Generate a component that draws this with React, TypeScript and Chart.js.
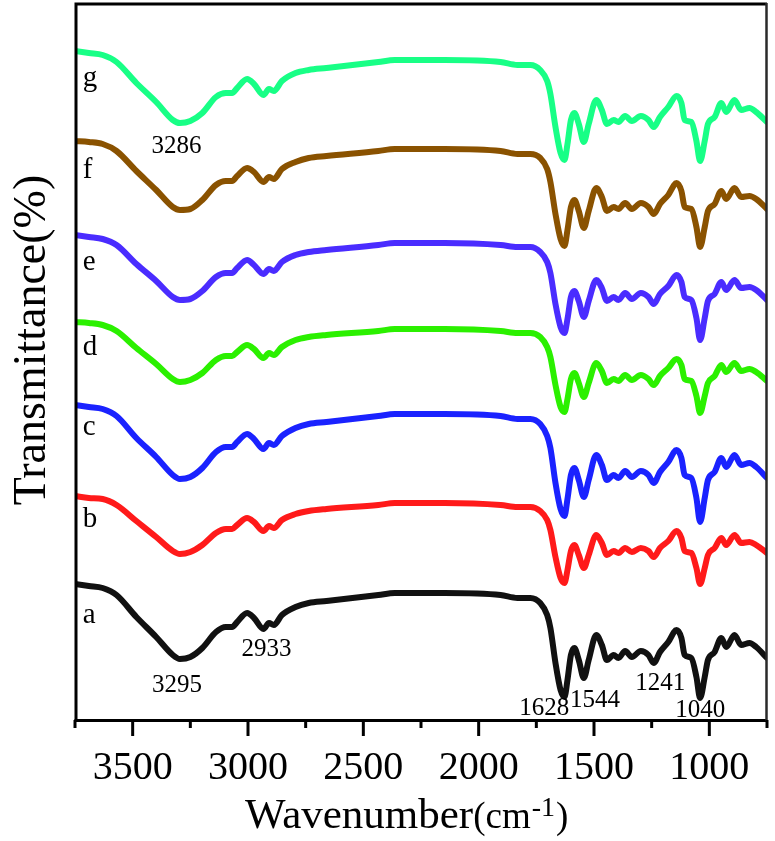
import React, { useEffect, useRef } from 'react';
import { Chart, registerables } from 'chart.js';

Chart.register(...registerables);

// Wavenumber (cm-1) sample positions shared by all spectra
const wavenumbers = [
  3750, 3690, 3630, 3570, 3484, 3398, 3326, 3295, 3250, 3198,
  3139, 3096, 3069, 3047, 3004, 2974, 2933, 2909, 2888, 2853,
  2794, 2737, 2660, 2435, 2364, 2148, 1905, 1832, 1776, 1733,
  1703, 1689, 1667, 1645, 1628, 1615, 1600, 1585, 1566, 1544,
  1523, 1490, 1466, 1444, 1415, 1394, 1365, 1336, 1297, 1264,
  1241, 1214, 1178, 1142, 1121, 1107, 1078, 1056, 1040, 1020,
  1006, 977, 948, 927, 891, 862, 826, 797, 750,
];

// Transmittance (arbitrary offset units) for each sample a..g
const transA = [
  136, 134, 132, 125, 103, 83, 65, 61, 63, 72,
  88, 93, 93, 98, 107, 102, 91, 97, 95, 105,
  113, 117, 119, 125, 127, 127, 125, 122, 122, 117,
  105, 92, 57, 30, 23, 40, 65, 72, 60, 42,
  60, 85, 75, 60, 65, 62, 69, 63, 69, 65,
  57, 68, 78, 90, 82, 65, 62, 43, 22, 43,
  60, 68, 82, 73, 85, 75, 77, 73, 62,
];
const transB = [
  224, 222, 221, 215, 199, 183, 169, 166, 168, 175,
  187, 191, 191, 195, 202, 198, 189, 194, 192, 200,
  206, 209, 211, 215, 217, 217, 215, 213, 213, 209,
  200, 190, 163, 142, 137, 150, 169, 175, 165, 152,
  165, 185, 177, 165, 169, 167, 172, 168, 172, 169,
  163, 172, 179, 189, 182, 169, 167, 152, 136, 152,
  165, 172, 182, 175, 185, 177, 178, 175, 167,
];
const transC = [
  315, 313, 311, 304, 282, 263, 245, 241, 243, 252,
  268, 273, 273, 278, 286, 281, 271, 277, 275, 284,
  292, 296, 298, 304, 306, 306, 304, 301, 301, 296,
  284, 272, 237, 211, 204, 221, 245, 252, 240, 223,
  240, 265, 255, 240, 245, 242, 249, 243, 249, 245,
  237, 248, 258, 270, 262, 245, 242, 222, 198, 222,
  240, 248, 262, 253, 265, 255, 257, 253, 242,
];
const transD = [
  398, 397, 395, 389, 372, 356, 341, 338, 340, 347,
  360, 364, 364, 368, 375, 371, 362, 367, 365, 373,
  380, 383, 385, 389, 391, 391, 389, 387, 387, 383,
  373, 363, 335, 313, 308, 321, 341, 347, 337, 323,
  337, 357, 349, 337, 341, 339, 345, 340, 345, 341,
  335, 344, 352, 361, 355, 341, 339, 324, 307, 324,
  337, 344, 355, 348, 357, 349, 351, 348, 339,
];
const transE = [
  485, 483, 481, 475, 456, 439, 423, 420, 421, 429,
  443, 447, 447, 452, 460, 455, 446, 451, 449, 458,
  465, 468, 470, 475, 477, 477, 475, 473, 473, 468,
  458, 447, 416, 393, 387, 401, 423, 429, 419, 403,
  419, 440, 432, 419, 423, 420, 427, 421, 427, 423,
  416, 426, 434, 445, 438, 423, 420, 402, 380, 402,
  419, 426, 438, 430, 440, 432, 433, 430, 420,
];
const transF = [
  579, 578, 576, 569, 549, 530, 513, 510, 511, 520,
  535, 539, 539, 544, 552, 548, 538, 543, 541, 551,
  558, 562, 564, 569, 571, 571, 569, 566, 566, 562,
  551, 538, 506, 481, 474, 490, 513, 520, 509, 492,
  509, 532, 523, 509, 513, 511, 517, 511, 517, 513,
  506, 516, 525, 537, 529, 513, 511, 493, 473, 493,
  509, 516, 529, 521, 532, 523, 524, 521, 511,
];
const transG = [
  669, 667, 665, 658, 637, 618, 600, 597, 599, 607,
  623, 627, 627, 632, 641, 636, 625, 631, 629, 639,
  647, 650, 652, 658, 660, 660, 658, 655, 655, 650,
  639, 626, 593, 567, 560, 576, 600, 607, 596, 578,
  596, 620, 610, 596, 600, 598, 604, 599, 604, 600,
  593, 603, 613, 624, 617, 600, 598, 579, 559, 579,
  596, 603, 617, 608, 620, 610, 612, 608, 598,
];

const seriesNames = ['a', 'b', 'c', 'd', 'e', 'f', 'g'];
const seriesValues = [transA, transB, transC, transD, transE, transF, transG];
const seriesColors = ['#111111', '#FF1A1A', '#1A22FF', '#2BF000', '#4A2CFF', '#8A5200', '#18FF86'];

// Label anchor (wavenumber, transmittance) for curve letters
const curveLabelX = [3716, 3716, 3716, 3716, 3716, 3716, 3716];
const curveLabelY = [97, 193, 285, 365, 450, 542, 634];

// Peak annotations
const peakTexts = ['3286', '3295', '2933', '1628', '1544', '1241', '1040'];
const peakX = [3310, 3308, 2920, 1716, 1496, 1213, 1039];
const peakY = [567, 28, 64, 5, 13, 30, 3];

const X_MIN = 750;
const X_MAX = 3750;
const Y_MIN = 0;
const Y_MAX = 717;
const MAJOR_STEP = 500;
const MINOR_STEP = 250;

const SERIF = '"Liberation Serif", "Times New Roman", serif';

const overlayPlugin = {
  id: 'overlay',
  afterDraw(chart: any) {
    const { ctx, chartArea, scales } = chart;
    const { left, right, top, bottom } = chartArea;
    const xs = scales.x;
    const ys = scales.y;
    ctx.save();

    // frame
    ctx.strokeStyle = '#000';
    ctx.lineCap = 'butt';
    ctx.lineWidth = 3;
    ctx.beginPath();
    ctx.moveTo(left + 1, bottom + 1.5);
    ctx.lineTo(left + 1, top + 1);
    ctx.lineTo(right, top + 1);
    ctx.stroke();
    ctx.beginPath();
    ctx.moveTo(left - 0.5, bottom + 0.5);
    ctx.lineTo(right, bottom + 0.5);
    ctx.stroke();
    ctx.strokeStyle = '#2a2a2a';
    ctx.lineWidth = 2.5;
    ctx.beginPath();
    ctx.moveTo(right - 0.5, top);
    ctx.lineTo(right - 0.5, bottom + 1);
    ctx.stroke();

    // ticks from the x scale
    ctx.strokeStyle = '#000';
    ctx.lineWidth = 3;
    xs.ticks.forEach((t: any) => {
      const px = xs.getPixelForValue(t.value);
      const major = t.value % MAJOR_STEP === 0;
      ctx.beginPath();
      ctx.moveTo(px, bottom);
      ctx.lineTo(px, bottom + (major ? 16 : 8));
      ctx.stroke();
    });

    // curve letters
    ctx.fillStyle = '#000';
    ctx.textBaseline = 'alphabetic';
    ctx.textAlign = 'left';
    ctx.font = `29px ${SERIF}`;
    seriesNames.forEach((n, i) => {
      ctx.fillText(n, xs.getPixelForValue(curveLabelX[i]), ys.getPixelForValue(curveLabelY[i]));
    });

    // peak annotations
    ctx.textAlign = 'center';
    ctx.font = `25px ${SERIF}`;
    peakTexts.forEach((t, i) => {
      ctx.fillText(t, xs.getPixelForValue(peakX[i]), ys.getPixelForValue(peakY[i]));
    });

    // x title with superscript
    ctx.textAlign = 'left';
    let cx = 245;
    const base = 828;
    ctx.font = `43px ${SERIF}`;
    ctx.fillText('Wavenumber', cx, base);
    cx += ctx.measureText('Wavenumber').width;
    ctx.font = `37px ${SERIF}`;
    ctx.fillText('(cm', cx, base);
    cx += ctx.measureText('(cm').width + 1;
    ctx.font = `28px ${SERIF}`;
    ctx.fillText('-1', cx, base - 12);
    cx += ctx.measureText('-1').width + 1;
    ctx.font = `37px ${SERIF}`;
    ctx.fillText(')', cx, base);

    // y title
    ctx.translate(45, 340);
    ctx.rotate(-Math.PI / 2);
    ctx.textAlign = 'center';
    ctx.font = `46px ${SERIF}`;
    ctx.fillText('Transmittance(%)', 0, 0);

    ctx.restore();
  },
};

export default function App() {
  const canvasRef = useRef<HTMLCanvasElement | null>(null);

  useEffect(() => {
    document.body.style.margin = '0';
    const canvas = canvasRef.current;
    if (!canvas) return;
    const datasets = seriesNames.map((name, i) => ({
      label: name,
      data: wavenumbers.map((w, j) => ({ x: w, y: seriesValues[i][j] })),
      borderColor: seriesColors[i],
      backgroundColor: seriesColors[i],
      borderWidth: 6,
      pointRadius: 0,
      fill: false,
      cubicInterpolationMode: 'monotone' as const,
      borderJoinStyle: 'round' as const,
      borderCapStyle: 'round' as const,
    }));
    const chart = new Chart(canvas, {
      type: 'line',
      data: { datasets },
      options: {
        animation: false,
        responsive: false,
        devicePixelRatio: 1,
        layout: { padding: { left: 0, top: 3, right: 4, bottom: 0 } },
        plugins: { legend: { display: false }, tooltip: { enabled: false } },
        scales: {
          x: {
            type: 'linear',
            reverse: true,
            min: X_MIN,
            max: X_MAX,
            border: { display: false },
            grid: { display: false, drawTicks: true, tickLength: 16 },
            ticks: {
              stepSize: MINOR_STEP,
              autoSkip: false,
              maxRotation: 0,
              padding: 8,
              color: '#000',
              font: { family: SERIF, size: 40 },
              callback: (v: any) => (Number(v) % MAJOR_STEP === 0 ? String(v) : ''),
            },
            afterFit: (s: any) => { s.height = 121; },
          },
          y: {
            type: 'linear',
            min: Y_MIN,
            max: Y_MAX,
            border: { display: false },
            grid: { display: false },
            ticks: { display: false },
            afterFit: (s: any) => { s.width = 75; },
          },
        },
      },
      plugins: [overlayPlugin],
    });
    return () => chart.destroy();
  }, []);

  return (
    <div style={{ position: 'absolute', left: 0, top: 0, width: 775, height: 841, background: '#fff' }}>
      <canvas ref={canvasRef} width={775} height={841} />
    </div>
  );
}
